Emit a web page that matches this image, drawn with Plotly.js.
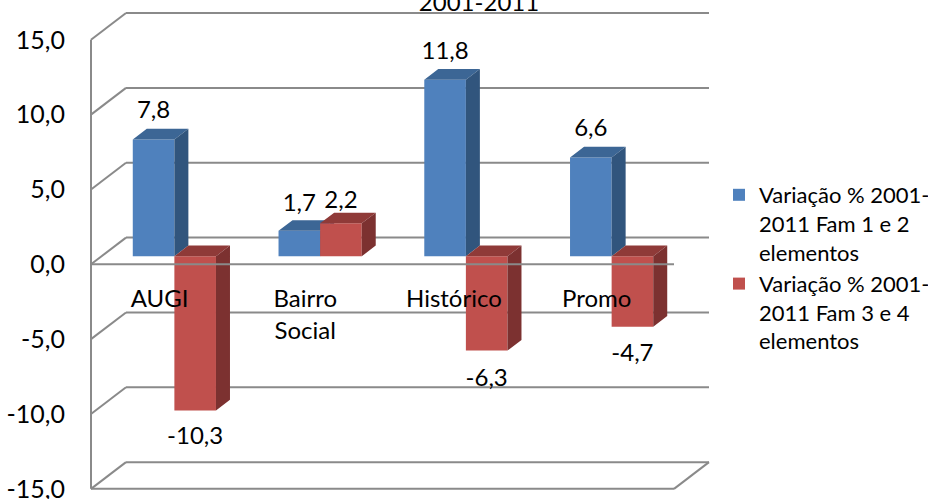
<!DOCTYPE html>
<html><head><meta charset="utf-8">
<script src="https://cdn.plot.ly/plotly-3.0.1.min.js"></script>
<style>html,body{margin:0;padding:0;background:#fff}</style>
</head><body><div id="chart" style="width:928px;height:499px"></div>
<script>
const categories = ['AUGI', 'Bairro<br>Social', 'Histórico', 'Promo'];
const series1Name = 'Variação % 2001-<br>2011 Fam 1 e 2<br>elementos';
const series2Name = 'Variação % 2001-<br>2011 Fam 3 e 4<br>elementos';
const series1 = [7.8, 1.7, 11.8, 6.6];
const series2 = [-10.3, 2.2, -6.3, -4.7];
const tickValues = [15, 10, 5, 0, -5, -10, -15];

const FONT = 'Lato, Carlito, sans-serif';
const UX = 145.75, UY = 14.97;           // px per category, px per value unit
const xRange = [-25 / UX, 628 / UX], yRange = [-234.7 / UY, 264.3 / UY];
const wallX = 35 / UX, wallY = 26.7 / UY;
const planeX = 10.5 / UX, planeY = 8 / UY;
const barW = 41.6 / UX, depthX = 14 / UX, depthY = 10.7 / UY;
const fmt = v => v.toFixed(1).replace('.', ',');
const idx = categories.map((_, i) => i);
const centre = (i, s) => i + 0.5 + planeX + s * barW / 2;

function faces(vals, s) {
  const top = {x: [], y: []}, side = {x: [], y: []};
  vals.forEach((v, i) => {
    const x0 = centre(i, s) - barW / 2, x1 = x0 + barW;
    const hi = Math.max(planeY, planeY + v), lo = Math.min(planeY, planeY + v);
    top.x.push(x0, x1, x1 + depthX, x0 + depthX, x0, null);
    top.y.push(hi, hi, hi + depthY, hi + depthY, hi, null);
    side.x.push(x1, x1 + depthX, x1 + depthX, x1, x1, null);
    side.y.push(lo, lo + depthY, hi + depthY, hi, lo, null);
  });
  return {top, side};
}
const poly = (p, color, xa, ya) => ({type: 'scatter', mode: 'lines', x: p.x, y: p.y, fill: 'toself',
  fillcolor: color, line: {width: 0}, hoverinfo: 'skip', showlegend: false, xaxis: xa, yaxis: ya});
const bar = (vals, s, name, color, xa, ya) => ({type: 'bar', name, x: idx.map(i => centre(i, s)), y: vals,
  base: vals.map(() => planeY), width: barW, marker: {color, line: {width: 0}}, hoverinfo: 'skip', xaxis: xa, yaxis: ya});

const f1 = faces(series1, -1), f2 = faces(series2, 1);
const blueGap = [1.85, 1.75, 1.8, 1.85], redGap = [-1.87, 1.45, -1.93, -1.87];
const labelTrace = (vals, s, gap) => ({type: 'scatter', mode: 'text', xaxis: 'x2', yaxis: 'y2', showlegend: false,
  hoverinfo: 'skip', cliponaxis: false, x: idx.map(i => centre(i, s)), y: vals.map((v, i) => planeY + v + gap[i]),
  text: vals.map(fmt), textposition: 'middle center', textfont: {family: FONT, size: 24, color: '#000'}});

const traces = [
  bar(series1, -1, series1Name, '#4F81BD', 'x', 'y'),
  poly(f1.top, '#3C6695', 'x', 'y'),
  poly(f1.side, '#31557D', 'x', 'y'),
  bar(series2, 1, series2Name, '#C0504D', 'x2', 'y2'),
  poly(f2.top, '#8F3A38', 'x2', 'y2'),
  poly(f2.side, '#7C3130', 'x2', 'y2'),
  {type: 'scatter', mode: 'lines', x: [0, categories.length], y: [0, 0], line: {color: '#8a8a8a', width: 2},
   hoverinfo: 'skip', showlegend: false, xaxis: 'x2', yaxis: 'y2'},
  labelTrace(series1, -1, blueGap),
  labelTrace(series2, 1, redGap)
];

const n = categories.length, GRID = {color: '#8a8a8a', width: 2};
const seg = (x0, y0, x1, y1) => ({type: 'line', layer: 'below', xref: 'x', yref: 'y', x0, y0, x1, y1, line: GRID});
const shapes = [];
tickValues.forEach(v => {
  shapes.push(seg(0, v, wallX, v + wallY));
  shapes.push(seg(wallX, v + wallY, n + wallX, v + wallY));
});
shapes.push(seg(0, -15, 0, 15));
shapes.push(seg(0, -15, n, -15));
shapes.push(seg(n, -15, n + wallX, -15 + wallY));

const layout = {
  width: 928, height: 499, autosize: false, showlegend: true,
  margin: {l: 66, r: 0, t: 0, b: 0, pad: 0},
  paper_bgcolor: '#fff', plot_bgcolor: 'rgba(0,0,0,0)',
  barmode: 'overlay', shapes,
  font: {family: FONT, size: 24, color: '#000'},
  title: {text: '2001-2011', x: 479 / 928, xanchor: 'center', y: 0.994, yref: 'container', yanchor: 'middle',
          font: {family: FONT, size: 24, color: '#000'}},
  xaxis: {range: xRange, anchor: 'free', position: 0.434, showgrid: false, zeroline: false, showline: false, ticks: '',
          tickmode: 'array', tickvals: [0.47, 1.47, 2.49, 3.47], ticktext: categories, ticklabeloverflow: 'allow',
          tickfont: {family: FONT, size: 24, color: '#000'}},
  yaxis: {range: yRange, showgrid: false, zeroline: false, showline: false, ticks: '', ticklabeloverflow: 'allow',
          tickmode: 'array', tickvals: tickValues, ticktext: tickValues.map(fmt), tickfont: {family: FONT, size: 25, color: '#000'}},
  xaxis2: {range: xRange, overlaying: 'x', anchor: 'y2', visible: false},
  yaxis2: {range: yRange, overlaying: 'y', anchor: 'x2', visible: false},
  legend: {xref: 'container', yref: 'container', x: 719 / 928, xanchor: 'left', y: 1 - 174 / 499, yanchor: 'top', valign: 'top',
           font: {family: FONT, size: 22, color: '#000'},
           bgcolor: 'rgba(0,0,0,0)', itemclick: false, itemdoubleclick: false, tracegroupgap: 0, traceorder: 'normal'}
};
Plotly.newPlot('chart', traces, layout, {staticPlot: true, displayModeBar: false});
</script></body></html>
